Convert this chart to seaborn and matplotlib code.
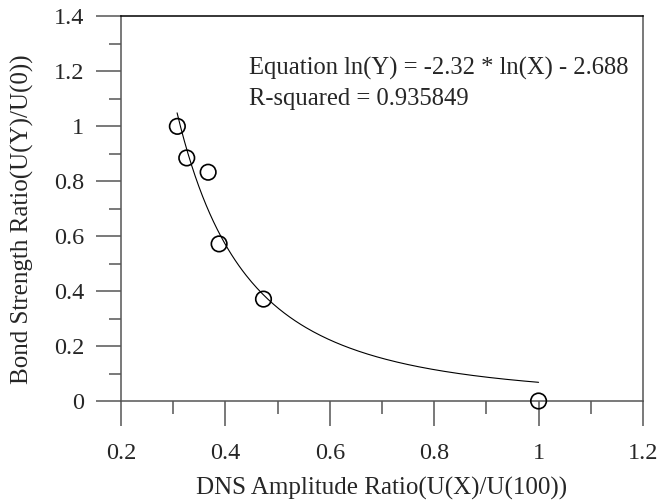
import numpy as np
import pandas as pd
import matplotlib
matplotlib.use("Agg")
import matplotlib.pyplot as plt
import seaborn as sns
from matplotlib.ticker import MultipleLocator

# Data
x_vals = [0.308, 0.326, 0.367, 0.388, 0.473, 1.0]
y_vals = [1.0, 0.885, 0.833, 0.572, 0.371, 0.0]
fit_slope = -2.32
fit_intercept = -2.688
fit_x_range = [0.3075, 1.0]
x_ticks = [0.2, 0.4, 0.6, 0.8, 1.0, 1.2]
x_tick_labels = ["0.2", "0.4", "0.6", "0.8", "1", "1.2"]
y_ticks = [0, 0.2, 0.4, 0.6, 0.8, 1.0, 1.2, 1.4]
y_tick_labels = ["0", "0.2", "0.4", "0.6", "0.8", "1", "1.2", "1.4"]

sns.set_style("ticks")
plt.rcParams['font.family'] = ['Liberation Serif', 'DejaVu Serif']

fig = plt.figure(figsize=(6.6, 5.03), dpi=100)
ax = fig.add_axes([0.1833, 0.2028, 0.7909, 0.7644])

df = pd.DataFrame({"x": x_vals, "y": y_vals})
xf = np.linspace(fit_x_range[0], fit_x_range[1], 200)
yf = np.exp(fit_intercept) * xf ** fit_slope
fit_df = pd.DataFrame({"x": xf, "y": yf})

sns.lineplot(data=fit_df, x="x", y="y", ax=ax, color="black", linewidth=0.8)
sns.scatterplot(data=df, x="x", y="y", ax=ax, marker="o", s=125,
                facecolor="none", edgecolor="black", linewidth=1.2, zorder=5,
                clip_on=False)

ax.set_xlim(0.2, 1.2)
ax.set_ylim(0, 1.4)
ax.set_xticks(x_ticks)
ax.set_xticklabels(x_tick_labels)
ax.set_yticks(y_ticks)
ax.set_yticklabels(y_tick_labels)
ax.xaxis.set_minor_locator(MultipleLocator(0.1))
ax.yaxis.set_minor_locator(MultipleLocator(0.1))
ax.tick_params(axis="both", which="major", direction="out", length=18, width=1.1,
               color="#555555", labelsize=17.5)
ax.tick_params(axis="y", which="major", pad=8.6)
ax.tick_params(axis="x", which="major", pad=12)
ax.tick_params(axis="both", which="minor", direction="out", length=9, width=1.1,
               color="#555555")
for side in ["left", "bottom", "right"]:
    ax.spines[side].set_color("#555555")
    ax.spines[side].set_linewidth(1.1)
ax.spines["top"].set_color("black")
ax.spines["top"].set_linewidth(1.1)
ax.spines["top"].set_visible(True)
ax.spines["right"].set_visible(True)

ax.set_xlabel("DNS Amplitude Ratio(U(X)/U(100))", fontsize=18)
ax.set_ylabel("Bond Strength Ratio(U(Y)/U(0))", fontsize=18)
ax.xaxis.label.set_va("baseline")
ax.xaxis.set_label_coords(0.5, -0.2445)
ax.yaxis.label.set_va("center")
ax.yaxis.set_label_coords(-0.1887, 0.472)

ax.text(0.4458, 1.188, "Equation ln(Y) = -2.32 * ln(X) - 2.688", fontsize=17.7,
        ha="left", va="baseline")
ax.text(0.4458, 1.079, "R-squared = 0.935849", fontsize=17.7, ha="left", va="baseline")

fig.savefig("out.png", dpi=100)
